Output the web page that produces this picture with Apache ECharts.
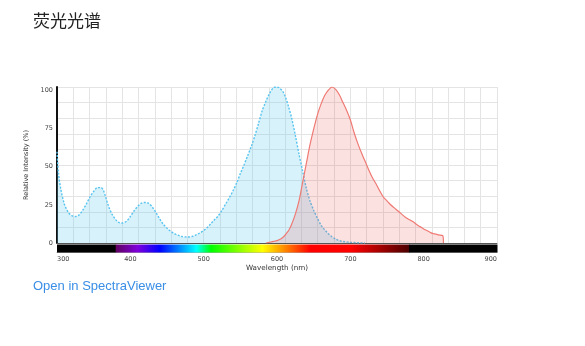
<!DOCTYPE html>
<html><head><meta charset="utf-8">
<script src="https://cdn.jsdelivr.net/npm/echarts@6/dist/echarts.min.js"></script>
<style>html,body{margin:0;padding:0;background:#fff}#c{width:585px;height:346px}</style>
</head><body><div id="c"></div>
<script>
// Excitation spectrum (blue, dashed)
const excitationNm  = [300,302,305,310,315,320,326,330,335,340,345,350,355,360,363,366,370,375,380,385,389,395,400,405,410,415,420,425,430,435,440,445,450,455,460,465,470,478,485,490,495,500,505,510,515,520,525,530,535,540,545,550,555,560,565,570,575,580,585,590,595,599,603,608,612,616,620,625,630,635,640,645,650,655,660,665,670,675,680,685,690,700,710,720];
const excitationVal = [58.5,45,35,25,20,17.5,17,18,21,25,29.5,33,35.5,35.5,34,30,24,18.5,15,13,12.8,14,17,20.5,23.5,25.5,26,25.5,23,19.5,15.5,12,9.5,7.5,6,5,4.2,3.8,4.3,5.3,6.5,8,10,12.5,15,17.5,21,25,29,33.5,38.5,44.5,50,56,62,69,77,85,91,96,99.5,100,99.5,97,93,87,80,69,57,46,35,27,21,16,11.5,8.5,6,4,2.5,1.5,1,0.5,0.2,0];
// Emission spectrum (red, solid)
const emissionNm  = [585,590,595,600,605,610,615,617,620,625,630,635,640,645,650,655,660,665,670,675,680,685,690,695,700,705,710,715,720,725,730,735,740,745,750,755,760,765,770,775,780,785,790,795,800,805,810,815,820,826,827];
const emissionVal = [0,0.5,1,1.5,2.5,4.5,7.5,9,12,18.5,27,39,51,63,73,82,89,94.5,98,100,98.5,95,90,85,79,71,64,58,52.5,47,42,38,33.5,29.5,27,24.5,22.5,20.5,18.5,16.5,15,13.8,12,10.5,9,7.8,6.5,5.8,5.2,4.7,0];
// Axis ticks
const xTickLabels = [300,400,500,600,700,800,900];
const yTickLabels = [0,25,50,75,100];
// Wavelength colour band
const bandStart = [300,380,780];
const bandEnd   = [380,780,900];
const bandKind  = ['dark','visible','dark'];
const spectrumStopNm    = [380,410,440,490,510,580,645,700,780];
const spectrumStopColor = ['#610061','#7e00db','#0000ff','#00ffff','#00ff00','#ffff00','#ff0000','#ff0000','#4a0000'];

const chart = echarts.init(document.getElementById('c'), null, {renderer:'canvas'});
const pair = (xs, ys) => xs.map((x,i)=>[x, ys[i]]);
const tickFont = 'DejaVu Sans';

const option = {
  animation: false,
  backgroundColor: '#fff',
  title: [
    {text:'荧光光谱', left:28, top:7, textStyle:{fontFamily:'Noto Sans CJK SC', fontSize:17, fontWeight:'normal', color:'#222'}},
    {text:'Open in SpectraViewer', left:28, top:275, textStyle:{fontFamily:'Liberation Sans', fontSize:13, fontWeight:'normal', color:'#3a8ee6'}}
  ],
  grid: [
    {left:57, top:87, width:440, height:156, containLabel:false},
    {left:57, top:244.5, width:440, height:8, containLabel:false}
  ],
  xAxis: [
    {type:'value', gridIndex:0, min:300, max:900, position:'bottom',
     axisLine:{show:true, onZero:false, lineStyle:{color:'#555', width:1}}, axisTick:{show:false}, axisLabel:{show:false}, splitLine:{show:false}},
    {type:'value', gridIndex:0, min:0, max:27, interval:1, position:'top',
     axisLine:{show:false}, axisTick:{show:false}, axisLabel:{show:false},
     splitLine:{show:true, lineStyle:{color:'#e4e4e4', width:1}}},
    {type:'value', gridIndex:1, min:300, max:900, interval:100, position:'bottom',
     name:'Wavelength (nm)', nameLocation:'middle', nameGap:12,
     nameTextStyle:{fontFamily:tickFont, fontSize:7.2, color:'#333'},
     axisLine:{show:true, onZero:false, lineStyle:{color:'#aaa', width:1}}, axisTick:{show:false},
     axisLabel:{show:true, margin:3, fontFamily:tickFont, fontSize:6.5, color:'#444', alignMinLabel:'left', alignMaxLabel:'right',
       formatter: v => xTickLabels.includes(v) ? String(v) : ''},
     splitLine:{show:false}}
  ],
  yAxis: [
    {type:'value', gridIndex:0, min:0, max:100, interval:10, position:'right',
     axisLine:{show:false}, axisTick:{show:false}, axisLabel:{show:false},
     splitLine:{show:true, lineStyle:{color:'#e4e4e4', width:1}}},
    {type:'value', gridIndex:0, min:0, max:102.17, interval:25, position:'left',
     name:'Relative Intensity (%)', nameLocation:'middle', nameGap:20, nameRotate:90,
     nameTextStyle:{fontFamily:tickFont, fontSize:6.5, color:'#333'},
     axisLine:{show:true, lineStyle:{color:'#111', width:2}}, axisTick:{show:false},
     axisLabel:{show:true, margin:4, fontFamily:tickFont, fontSize:6.5, color:'#444',
       formatter: v => yTickLabels.includes(v) ? String(v) : ''},
     splitLine:{show:false}},
    {type:'value', gridIndex:1, min:0, max:1, show:false}
  ],
  series: [
    {type:'custom', xAxisIndex:2, yAxisIndex:2, silent:true,
     data: bandStart.map((s,i)=>[s, bandEnd[i], i]),
     renderItem: (params, api) => {
       const s = api.value(0), e = api.value(1), k = bandKind[api.value(2)];
       const p0 = api.coord([s, 1]), p1 = api.coord([e, 0]);
       let fill = '#000';
       if (k === 'visible') {
         fill = new echarts.graphic.LinearGradient(0,0,1,0,
           spectrumStopNm.map((nm,j)=>({offset:(nm-s)/(e-s), color:spectrumStopColor[j]})));
       }
       return {type:'rect', shape:{x:p0[0], y:p0[1], width:p1[0]-p0[0]+0.5, height:p1[1]-p0[1]}, style:{fill:fill}};
     }},
    {type:'line', name:'Emission', xAxisIndex:0, yAxisIndex:0, data:pair(emissionNm, emissionVal),
     showSymbol:false, smooth:0.3, lineStyle:{color:'#ef7a74', width:1.2},
     areaStyle:{color:'rgba(235,60,60,0.22)'}, z:3},
    {type:'line', name:'Excitation', xAxisIndex:0, yAxisIndex:0, data:pair(excitationNm, excitationVal),
     showSymbol:false, smooth:0.3, lineStyle:{color:'#58c4ef', width:1.4, type:[2,1.5]},
     areaStyle:{color:'rgba(110,205,240,0.38)'}, z:2}
  ]
};
chart.setOption(option);
</script>
</body></html>
